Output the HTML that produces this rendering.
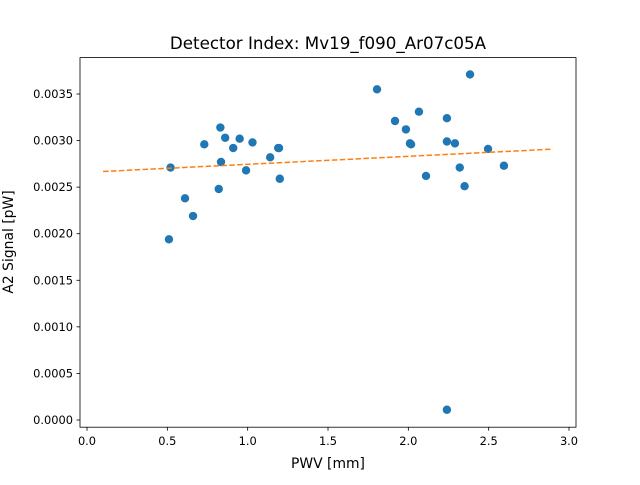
<!DOCTYPE html>
<html><head><meta charset="utf-8"><style>
body{margin:0;background:#fff;font-family:"Liberation Sans","DejaVu Sans",sans-serif;}
svg text{font-family:"DejaVu Sans","Liberation Sans",sans-serif;}
</style></head><body>
<svg id="chart" width="640" height="480" viewBox="0 0 640 480" xmlns="http://www.w3.org/2000/svg">
<rect width="640" height="480" fill="#fff"/>
<text x="328" y="49" text-anchor="middle" font-size="16.7">Detector Index: Mv19_f090_Ar07c05A</text>
<g id="plot"></g>
<rect x="80" y="57.6" width="496" height="369.6" fill="none" stroke="#000" stroke-width="0.8"/>
<text x="328" y="468" text-anchor="middle" font-size="13.9">PWV [mm]</text>
<text transform="translate(13,242) rotate(-90)" text-anchor="middle" font-size="13.9">A2 Signal [pW]</text>
</svg>
<script>
const pwv=[0.51,0.52,0.61,0.66,0.73,0.82,0.83,0.834,0.86,0.91,0.95,0.99,1.03,1.14,1.19,1.195,1.20,1.805,1.917,1.985,2.01,2.017,2.066,2.11,2.24,2.24,2.24,2.29,2.32,2.35,2.384,2.496,2.595];
const signal=[0.00194,0.00271,0.00238,0.00219,0.00296,0.00248,0.00314,0.00277,0.00303,0.00292,0.00302,0.00268,0.00298,0.00282,0.00292,0.00292,0.00259,0.00355,0.00321,0.00312,0.00297,0.00296,0.00331,0.00262,0.00324,0.00299,0.00011,0.00297,0.00271,0.00251,0.00371,0.00291,0.00273];
const fitX=[0.1,2.9];
const fitY=[0.002668,0.002908];
const xTicks=[0,0.5,1,1.5,2,2.5,3];
const xTickLabels=["0.0","0.5","1.0","1.5","2.0","2.5","3.0"];
const yTicks=[0,0.0005,0.001,0.0015,0.002,0.0025,0.003,0.0035];
const yTickLabels=["0.0000","0.0005","0.0010","0.0015","0.0020","0.0025","0.0030","0.0035"];

const X=v=>87+v*160.67;
const Y=v=>420-v*93143;
const NS="http://www.w3.org/2000/svg";
const g=document.getElementById('plot');
function mk(t,a){const e=document.createElementNS(NS,t);for(const k in a)e.setAttribute(k,a[k]);g.appendChild(e);return e;}
xTicks.forEach((t,i)=>{
  const l=mk('line',{x1:X(t),x2:X(t),y1:427.2,y2:430.7,stroke:'#000','stroke-width':0.8});
  
  
  const tx=mk('text',{x:X(t),y:445,'text-anchor':'middle','font-size':11.4});
  tx.textContent=xTickLabels[i];
  
  
});
yTicks.forEach((t,i)=>{
  const l=mk('line',{x1:76.5,x2:80,y1:Y(t),y2:Y(t),stroke:'#000','stroke-width':0.8});
  
  
  const tx=mk('text',{x:73,y:Y(t)+4,'text-anchor':'end','font-size':11.4});
  tx.textContent=yTickLabels[i];
  
  
});
pwv.forEach((v,i)=>{
  const c=mk('circle',{cx:X(v),cy:Y(signal[i]),r:4.2,fill:'#1f77b4'});
  
  
});
const fl=mk('line',{x1:X(fitX[0]),y1:Y(fitY[0]),x2:X(fitX[1]),y2:Y(fitY[1]),stroke:'#ff7f0e','stroke-width':1.5,'stroke-dasharray':'5.5,2.4'});


</script>
</body></html>
